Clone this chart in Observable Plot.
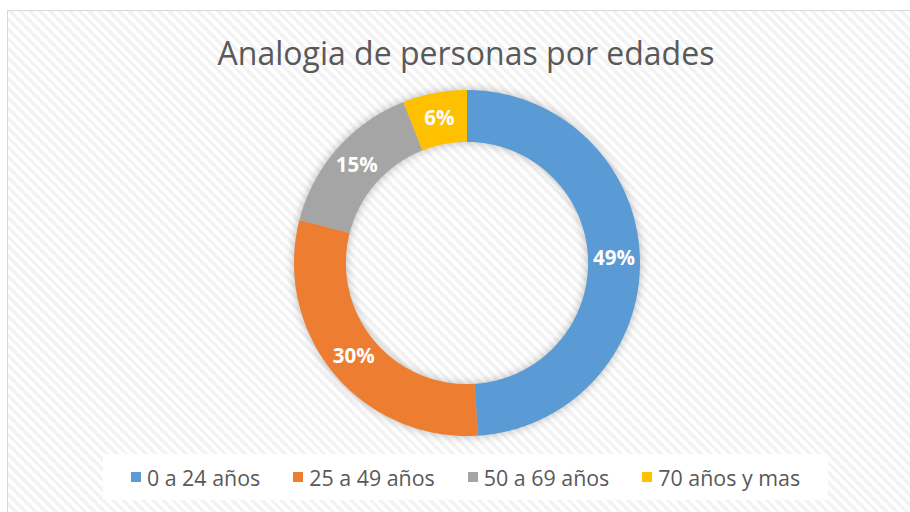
<!DOCTYPE html>
<html>
<head>
<meta charset="utf-8">
<script src="https://cdn.jsdelivr.net/npm/d3@7"></script>
<script src="https://cdn.jsdelivr.net/npm/@observablehq/plot@0.6"></script>
<style>
  html, body { margin: 0; padding: 0; width: 910px; height: 512px; overflow: hidden; background: #fff; }
  #frame {
    position: absolute; left: 7px; top: 10px; width: 930px; height: 520px;
    border-left: 1.5px solid #d9d9d9; border-top: 1.5px solid #d9d9d9;
    background: repeating-linear-gradient(45deg, #ffffff 0px, #ffffff 3.5px, #f3f3f3 3.5px, #f3f3f3 7px);
  }
  #title {
    position: absolute; left: 0; width: 932px; top: 30px; text-align: center;
    font-family: "Open Sans", sans-serif; font-weight: 400; font-size: 32px; color: #595959;
    line-height: 46px;
  }
  #chart { position: absolute; left: 0; top: 80px; }
  #legend {
    position: absolute; left: 103px; top: 454px; width: 725px; height: 46px;
    background: #fff; display: flex; align-items: center; justify-content: center; gap: 33px;
    font-family: "Open Sans", sans-serif; font-size: 21.4px; color: #595959;
  }
  #legend .item { display: flex; align-items: center; }
  #legend .sw { width: 10px; height: 10px; margin-right: 6px; }
</style>
</head>
<body>
<div id="frame"></div>
<div id="title">Analogia de personas por edades</div>
<div id="chart"></div>
<div id="legend"></div>
<script>
const categories = ["0 a 24 años", "25 a 49 años", "50 a 69 años", "70 años y mas"];
const values = [49, 30, 15, 6];
const labels = ["49%", "30%", "15%", "6%"];
const colors = ["#5B9BD5", "#ED7D31", "#A5A5A5", "#FFC000"];

const inner = 0.70;
const total = d3.sum(values);
const polys = [];
const labelPts = [];
let cum = 0;
values.forEach((v, i) => {
  const a0 = cum / total * 2 * Math.PI;
  const a1 = (cum + v) / total * 2 * Math.PI;
  cum += v;
  const n = Math.max(8, Math.ceil((a1 - a0) / 0.01));
  const pts = [];
  for (let k = 0; k <= n; k++) {
    const a = a0 + (a1 - a0) * k / n;
    pts.push({cat: categories[i], x: Math.sin(a), y: Math.cos(a)});
  }
  for (let k = n; k >= 0; k--) {
    const a = a0 + (a1 - a0) * k / n;
    pts.push({cat: categories[i], x: inner * Math.sin(a), y: inner * Math.cos(a)});
  }
  polys.push(...pts);
  const am = (a0 + a1) / 2, rm = (1 + inner) / 2;
  labelPts.push({cat: categories[i], label: labels[i], x: rm * Math.sin(am), y: rm * Math.cos(am)});
});

const W = 910, H = 370, cx = 466.5, cy = 182.5, R = 173;
const plot = Plot.plot({
  width: W, height: H,
  marginLeft: cx - R, marginRight: W - cx - R,
  marginTop: cy - R, marginBottom: H - cy - R,
  x: {domain: [-1, 1], axis: null},
  y: {domain: [-1, 1], axis: null},
  color: {domain: categories, range: colors},
  style: {background: "transparent", overflow: "visible"},
  marks: [
    Plot.line(polys, {x: "x", y: "y", z: "cat", fill: "cat", stroke: "none", curve: "linear"}),
    Plot.text(labelPts, {x: "x", y: "y", text: "label", fill: "#fff", fontSize: 20.5, fontWeight: "bold",
      fontFamily: "'Open Sans', sans-serif"})
  ]
});
const g = plot.querySelector('g[aria-label="line"]');
if (g) g.style.filter = "drop-shadow(0px 0px 5px rgba(0,0,0,0.28))";
document.getElementById("chart").appendChild(plot);

const leg = document.getElementById("legend");
categories.forEach((c, i) => {
  const it = document.createElement("div");
  it.className = "item";
  const sw = document.createElement("span");
  sw.className = "sw"; sw.style.background = colors[i];
  const t = document.createElement("span");
  t.textContent = c;
  it.appendChild(sw); it.appendChild(t);
  leg.appendChild(it);
});
</script>
</body>
</html>
